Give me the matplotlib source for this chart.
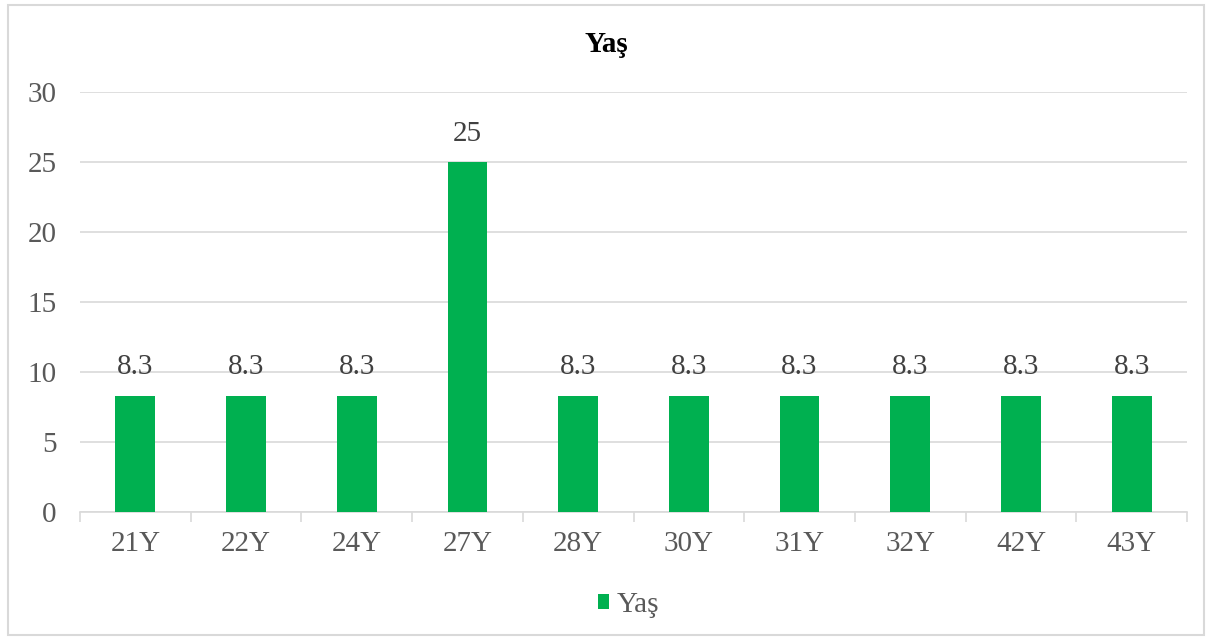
import matplotlib.pyplot as plt
from matplotlib.patches import Rectangle
import numpy as np

categories = ['21Y', '22Y', '24Y', '27Y', '28Y', '30Y', '31Y', '32Y', '42Y', '43Y']
values = [8.3, 8.3, 8.3, 25, 8.3, 8.3, 8.3, 8.3, 8.3, 8.3]
series_name = 'Yaş'

plt.rcParams['font.family'] = ['Liberation Serif', 'DejaVu Serif']
gray = '#595959'
green = '#00B050'

fig = plt.figure(figsize=(12.13, 6.41), dpi=100)
ax = fig.add_axes([80 / 1213, 129 / 641, 1107 / 1213, 420 / 641])

x = np.arange(len(categories))
bars = ax.bar(x, values, width=0.36, color=green, label=series_name, zorder=3)
for b, v in zip(bars, values):
    ax.text(b.get_x() + b.get_width() / 2, v + 1.1, f'{v:g}', ha='center', va='bottom',
            fontsize=21, color='#404040')

ax.set_xlim(-0.5, len(categories) - 0.5)
ax.set_ylim(0, 30)
ax.set_yticks(range(0, 31, 5))
ax.grid(axis='y', color='#d9d9d9', linewidth=1.2, zorder=0)
for s in ['top', 'right', 'left']:
    ax.spines[s].set_visible(False)
ax.spines['bottom'].set_color('#d9d9d9')
ax.spines['bottom'].set_linewidth(1.2)
ax.set_xticks(x)
ax.set_xticklabels(categories)
ax.set_xticks(np.arange(-0.5, len(categories)), minor=True)
ax.tick_params(axis='x', which='major', length=0, pad=14, labelsize=21, labelcolor=gray)
ax.tick_params(axis='x', which='minor', length=7, color='#d9d9d9', width=1.2)
ax.tick_params(axis='y', length=0, pad=17, labelsize=21, labelcolor=gray)

fig.text(0.5, 1 - 45 / 641, series_name, ha='center', va='center', fontsize=21,
         fontweight='bold', color='black')

# legend slightly left of centre, like the reference
ax.legend(loc='center', bbox_to_anchor=(0.4955, (641 - 605 - 129) / 420), ncol=1, frameon=False,
          fontsize=21, labelcolor=gray, handlelength=0.4, handleheight=0.4, handletextpad=0.25)

fig.patches.append(Rectangle((8 / 1213, 6 / 641), 1196 / 1213, 630 / 641, transform=fig.transFigure,
                             fill=False, edgecolor='#d9d9d9', linewidth=1.5))

fig.savefig('out.png', dpi=100)
